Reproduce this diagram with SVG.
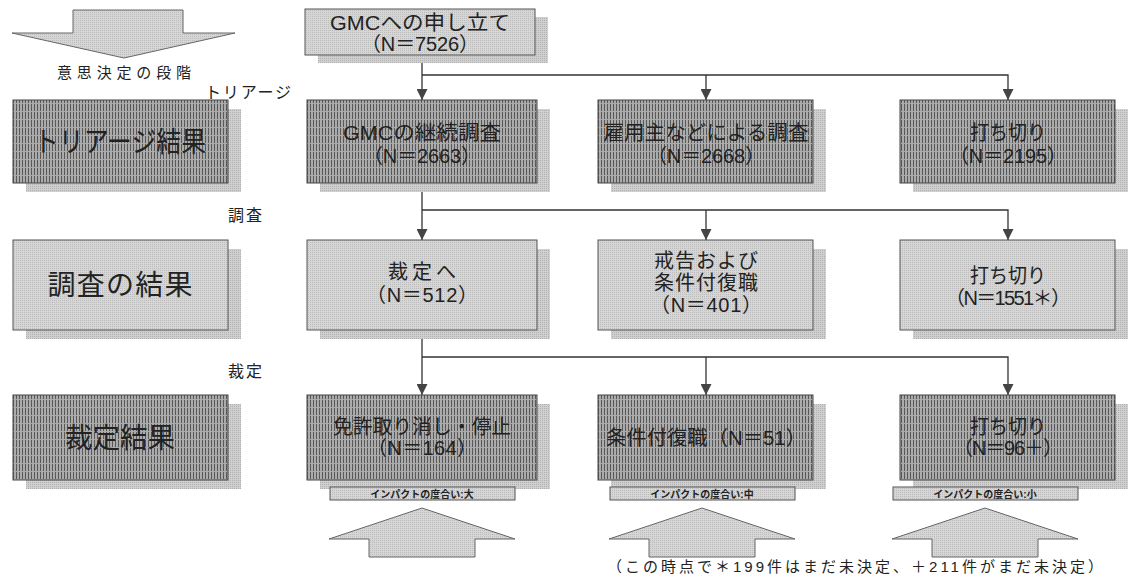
<svg xmlns="http://www.w3.org/2000/svg" width="1130" height="578" viewBox="0 0 1130 578">
<style>
text{font-family:"Liberation Sans","Noto Sans CJK JP",sans-serif;fill:#222;text-anchor:middle}
.shadow{fill:url(#sh)}
.dark{fill:url(#dk);stroke:#444;stroke-width:1}
.light{fill:url(#lt);stroke:#555;stroke-width:1}
.big{font-size:28px}
.mid{font-size:20px}
.lab{font-size:16px}
.imp{font-size:10px;font-weight:bold}
.conn{fill:none;stroke:#333;stroke-width:1.3}
.uparrow{fill:url(#lt);stroke:#666;stroke-width:1}
</style>
<defs>
<pattern id="dk" width="3" height="8" patternUnits="userSpaceOnUse"><rect width="3" height="8" fill="#ababab"/><rect x="1" width="1" height="7" fill="#585858"/></pattern>
<pattern id="lt" width="2" height="2" patternUnits="userSpaceOnUse"><rect width="2" height="2" fill="#d6d6d6"/><rect width="1" height="1" fill="#bcbcbc"/></pattern>
<pattern id="sh" width="2" height="2" patternUnits="userSpaceOnUse"><rect width="2" height="2" fill="#d0d0d0"/><rect width="1" height="1" fill="#b0b0b0"/></pattern>
<marker id="ah" markerWidth="11" markerHeight="11" refX="10" refY="5" orient="auto" markerUnits="userSpaceOnUse" viewBox="0 0 10 10"><path d="M0,0 L10,5 L0,10 Z" fill="#444"/></marker>
</defs>
<rect width="1130" height="578" fill="#fff"/>

<g id="stage-arrow">
<polygon points="73,10 183,10 183,33 235,33 124,58 12,33 73,33" class="uparrow"/>
<text x="124" y="78" style="font-size:15px" textLength="134" lengthAdjust="spacing">意思決定の段階</text>
</g>

<g id="stage-labels">
<text x="248" y="98" class="lab" textLength="86" lengthAdjust="spacing">トリアージ</text>
<text x="245" y="221" class="lab" textLength="34" lengthAdjust="spacing">調査</text>
<text x="245" y="377" class="lab" textLength="34" lengthAdjust="spacing">裁定</text>
</g>

<g id="connectors">
<path class="conn" d="M422,55 V100" marker-end="url(#ah)"/>
<path class="conn" d="M422,75 H1008 V100" marker-end="url(#ah)"/>
<path class="conn" d="M706,75 V100" marker-end="url(#ah)"/>
<path class="conn" d="M422,183 V240" marker-end="url(#ah)"/>
<path class="conn" d="M422,210 H1008 V240" marker-end="url(#ah)"/>
<path class="conn" d="M706,210 V240" marker-end="url(#ah)"/>
<path class="conn" d="M422,330 V395" marker-end="url(#ah)"/>
<path class="conn" d="M422,357 H1008 V395" marker-end="url(#ah)"/>
<path class="conn" d="M706,357 V395" marker-end="url(#ah)"/>
</g>

<g id="n-top">
<rect x="318" y="17" width="230" height="46" class="shadow"/>
<rect x="305" y="9" width="230" height="46" class="light"/>
<text x="420" y="30" class="mid" textLength="180" lengthAdjust="spacingAndGlyphs">GMCへの申し立て</text>
<text x="420" y="51" class="mid" textLength="118" lengthAdjust="spacing">（N＝7526）</text>
</g>

<g id="n-triage-label">
<rect x="26" y="109" width="215" height="83" class="shadow"/>
<rect x="13" y="100" width="215" height="83" class="dark"/>
<text x="120" y="152" class="big" textLength="172" lengthAdjust="spacingAndGlyphs">トリアージ結果</text>
</g>
<g id="n-gmc">
<rect x="320" y="109" width="230" height="83" class="shadow"/>
<rect x="307" y="100" width="230" height="83" class="dark"/>
<text x="422" y="140" class="mid" textLength="158" lengthAdjust="spacingAndGlyphs">GMCの継続調査</text>
<text x="422" y="163" class="mid" textLength="118" lengthAdjust="spacing">（N＝2663）</text>
</g>
<g id="n-employer">
<rect x="611" y="109" width="215" height="83" class="shadow"/>
<rect x="598" y="100" width="215" height="83" class="dark"/>
<text x="706" y="140" class="mid" textLength="205" lengthAdjust="spacingAndGlyphs">雇用主などによる調査</text>
<text x="706" y="163" class="mid" textLength="118" lengthAdjust="spacing">（N＝2668）</text>
</g>
<g id="n-close1">
<rect x="913" y="109" width="215" height="83" class="shadow"/>
<rect x="900" y="100" width="215" height="83" class="dark"/>
<text x="1008" y="140" class="mid" textLength="76" lengthAdjust="spacingAndGlyphs">打ち切り</text>
<text x="1008" y="163" class="mid" textLength="118" lengthAdjust="spacing">（N＝2195）</text>
</g>

<g id="n-invest-label">
<rect x="26" y="249" width="215" height="90" class="shadow"/>
<rect x="13" y="240" width="215" height="90" class="light"/>
<text x="120" y="295" class="big" textLength="145" lengthAdjust="spacing">調査の結果</text>
</g>
<g id="n-toadj">
<rect x="320" y="249" width="230" height="90" class="shadow"/>
<rect x="307" y="240" width="230" height="90" class="light"/>
<text x="422" y="279" class="mid" textLength="68" lengthAdjust="spacing">裁定へ</text>
<text x="422" y="302" class="mid" textLength="112" lengthAdjust="spacing">（N＝512）</text>
</g>
<g id="n-warning">
<rect x="611" y="249" width="215" height="90" class="shadow"/>
<rect x="598" y="240" width="215" height="90" class="light"/>
<text x="706" y="268" class="mid" textLength="104" lengthAdjust="spacing">戒告および</text>
<text x="706" y="290" class="mid" textLength="104" lengthAdjust="spacing">条件付復職</text>
<text x="706" y="312" class="mid" textLength="112" lengthAdjust="spacing">（N＝401）</text>
</g>
<g id="n-close2">
<rect x="913" y="249" width="215" height="90" class="shadow"/>
<rect x="900" y="240" width="215" height="90" class="light"/>
<text x="1008" y="283" class="mid" textLength="76" lengthAdjust="spacingAndGlyphs">打ち切り</text>
<text x="1008" y="305" class="mid" textLength="126" lengthAdjust="spacing">（N＝1551＊）</text>
</g>

<g id="n-adj-label">
<rect x="26" y="404" width="215" height="85" class="shadow"/>
<rect x="13" y="395" width="215" height="85" class="dark"/>
<text x="120" y="448" class="big" textLength="110" lengthAdjust="spacingAndGlyphs">裁定結果</text>
</g>
<g id="n-revoke">
<rect x="320" y="404" width="230" height="85" class="shadow"/>
<rect x="307" y="395" width="230" height="85" class="dark"/>
<text x="422" y="434" class="mid" textLength="178" lengthAdjust="spacingAndGlyphs">免許取り消し・停止</text>
<text x="422" y="455" class="mid" textLength="110" lengthAdjust="spacing">（N＝164）</text>
</g>
<g id="n-condret">
<rect x="611" y="404" width="215" height="85" class="shadow"/>
<rect x="598" y="395" width="215" height="85" class="dark"/>
<text x="706" y="445" class="mid" textLength="200" lengthAdjust="spacingAndGlyphs">条件付復職（N＝51）</text>
</g>
<g id="n-close3">
<rect x="913" y="404" width="215" height="85" class="shadow"/>
<rect x="900" y="395" width="215" height="85" class="dark"/>
<text x="1008" y="434" class="mid" textLength="76" lengthAdjust="spacingAndGlyphs">打ち切り</text>
<text x="1008" y="455" class="mid" textLength="110" lengthAdjust="spacing">（N＝96＋）</text>
</g>

<g id="impact-high">
<rect x="330" y="487" width="185" height="13" class="light"/>
<text x="422" y="497.5" class="imp">インパクトの度合い:大</text>
<polygon points="329,539 422,508 515,539 475,539 475,557 369,557 369,539" class="uparrow"/>
</g>
<g id="impact-mid">
<rect x="610" y="487" width="185" height="13" class="light"/>
<text x="702" y="497.5" class="imp">インパクトの度合い:中</text>
<polygon points="609,539 702,508 795,539 755,539 755,557 649,557 649,539" class="uparrow"/>
</g>
<g id="impact-low">
<rect x="893" y="487" width="185" height="13" class="light"/>
<text x="985" y="497.5" class="imp">インパクトの度合い:小</text>
<polygon points="892,539 985,508 1078,539 1038,539 1038,557 932,557 932,539" class="uparrow"/>
</g>

<text x="855" y="572" style="font-size:15px" textLength="496" lengthAdjust="spacing">（この時点で＊199件はまだ未決定、＋211件がまだ未決定）</text>
</svg>
